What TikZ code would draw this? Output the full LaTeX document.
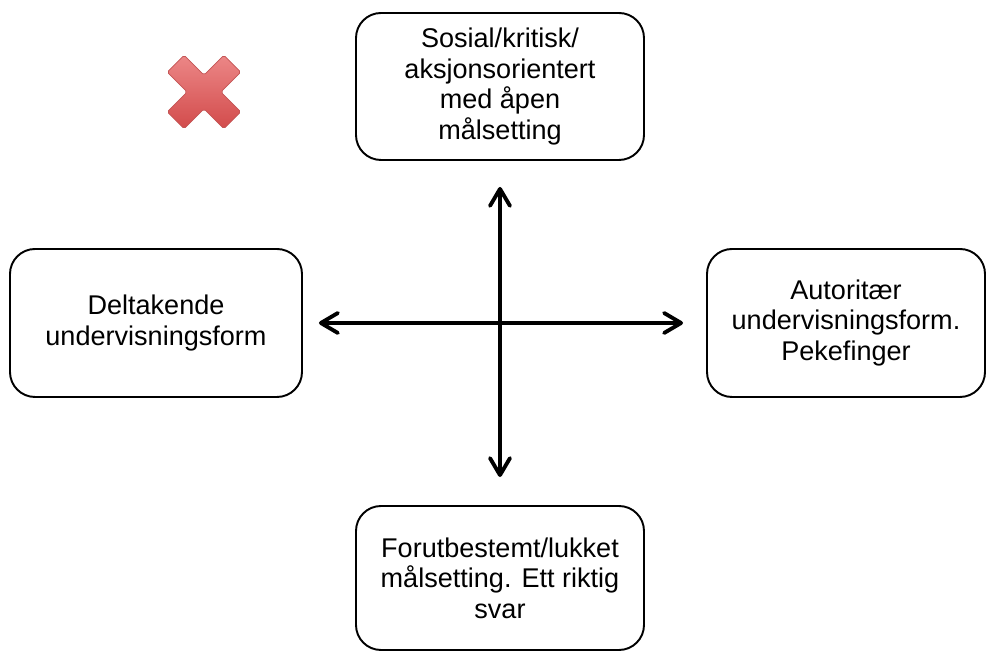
\documentclass[tikz,border=0pt]{standalone}
\usepackage{fontspec}
\setmainfont{Liberation Sans}
\usepackage{xcolor}
\usepackage{tikz}
\usetikzlibrary{arrows.meta,positioning}
\definecolor{crossred}{RGB}{236,135,135}
\definecolor{crossdark}{RGB}{210,75,75}
\definecolor{crossedge}{RGB}{195,85,85}
\tikzset{
  % tekst i boksene
  every node/.append style={font=\fontsize{15.4}{17.4}\selectfont},
}

\begin{document}
\begin{tikzpicture}[
        box/.style={draw, line width=1.1pt, rounded corners=0.5cm, align=center, inner sep=0pt},
        arrow/.style={<->, line width=2.2pt, >={Straight Barb[length=3.4mm, width=4mm, line cap=round, line join=round]}}
    ]
        \useasboundingbox (-10,-6.6) rectangle (9.72,6.46);

        % boksene
        \node[box, minimum width=5.76cm, minimum height=2.94cm] (open) at (0, 4.73)
            {Sosial/kritisk/\\aksjonsorientert\\med åpen\\målsetting};
        \node[box, minimum width=5.84cm, minimum height=2.96cm] (part) at (-6.88, 0)
            {Deltakende\\undervisningsform};
        \node[box, minimum width=5.56cm, minimum height=2.96cm] (auth) at (6.92, 0)
            {Autoritær\\undervisningsform.\\Pekefinger};
        \node[box, minimum width=5.76cm, minimum height=2.88cm] (closed) at (0, -5.1)
            {Forutbestemt/lukket\\målsetting. Ett riktig\\svar};

        % aksene
        \draw[arrow, shorten <=0.32cm, shorten >=0.46cm] (part) -- (auth);
        \draw[arrow, shorten <=0.52cm, shorten >=0.56cm] (open) -- (closed);

        % rødt kryss
        \begin{scope}[shift={(-5.92, 4.62)}]
            \draw[crossedge, line width=0.4pt, rounded corners=1pt, top color=crossred, bottom color=crossdark]
                (0,0.339) -- (0.396,0.735) -- (0.735,0.396) -- (0.339,0) -- (0.735,-0.396)
                -- (0.396,-0.735) -- (0,-0.339) -- (-0.396,-0.735) -- (-0.735,-0.396)
                -- (-0.339,0) -- (-0.735,0.396) -- (-0.396,0.735) -- cycle;
        \end{scope}
    \end{tikzpicture}
\end{document}
